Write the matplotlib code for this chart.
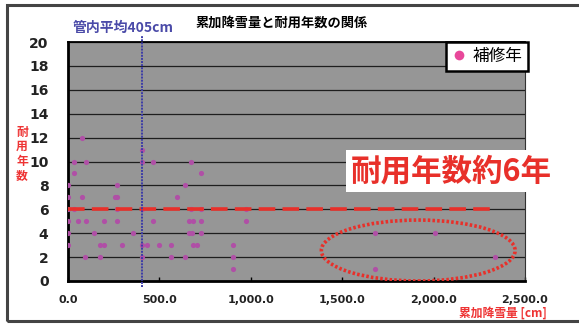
import matplotlib.pyplot as plt
from matplotlib.patches import Ellipse, Rectangle
from matplotlib.lines import Line2D
from matplotlib.ticker import FuncFormatter

plt.rcParams['font.family'] = ['Noto Sans CJK JP', 'DejaVu Sans']

# 累加降雪量 [cm] と 補修までの年数
snow = [
    79, 403,
    31, 101, 403, 465, 672,
    31, 725,
    2, 266, 641,
    0, 79, 255, 270, 599,
    0, 33, 266, 403, 672, 725, 973,
    0, 57, 97, 196, 267, 465, 662, 684, 725, 973,
    2, 141, 354, 660, 676, 725, 1678, 2008,
    2, 176, 198, 293, 403, 432, 498, 564, 683, 705, 905,
    95, 176, 403, 564, 641, 905, 2334,
    905, 1678,
]
years = [
    12, 11,
    10, 10, 10, 10, 10,
    9, 9,
    8, 8, 8,
    7, 7, 7, 7, 7,
    6, 6, 6, 6, 6, 6, 6,
    5, 5, 5, 5, 5, 5, 5, 5, 5, 5,
    4, 4, 4, 4, 4, 4, 4, 4,
    3, 3, 3, 3, 3, 3, 3, 3, 3, 3, 3,
    2, 2, 2, 2, 2, 2, 2,
    1, 1,
]

avg_snow = 405          # 管内平均
life_years = 6          # 耐用年数
life_line_end = 2335
x_ticks = [0, 500, 1000, 1500, 2000, 2500]
y_ticks = list(range(0, 21, 2))

fig = plt.figure(figsize=(5.79, 3.26), dpi=100)
fig.patch.set_facecolor('white')

# outer frame of the chart
fig.patches.append(Rectangle((7 / 579, 5 / 326), 1.0, 316 / 326,
                             transform=fig.transFigure, fill=False,
                             edgecolor='#444444', linewidth=2.2))

ax = fig.add_axes([68 / 579, 45 / 326, 457 / 579, 239 / 326])
ax.set_facecolor('#969696')
ax.set_xlim(0, 2500)
ax.set_ylim(0, 20)

for y in y_ticks[1:]:
    ax.axhline(y, color='#1e1e1e', linewidth=0.9, zorder=1)

ax.scatter(snow, years, s=14, color='#b04fa6', zorder=3, linewidths=0)

ax.plot([0, life_line_end], [life_years, life_years], color='#e8302a',
        linewidth=2.6, dashes=(4.6, 2.0), zorder=4)

ax.axvline(avg_snow, ymin=-0.027, ymax=1.03, color='#3c3ca8',
           linewidth=1.4, linestyle=(0, (1, 0.6)), clip_on=False, zorder=5)

ax.add_patch(Ellipse((1916, 2.55), 1060, 5.1, fill=False,
                     edgecolor='#e8302a', linewidth=2.6,
                     linestyle=(0, (0.7, 0.6)), zorder=5))

ax.set_xticks(x_ticks)
ax.set_yticks(y_ticks)
ax.xaxis.set_major_formatter(FuncFormatter(lambda v, p: f'{v:,.1f}'))
ax.tick_params(axis='x', direction='in', length=3, width=1, pad=10,
               labelsize=8)
ax.tick_params(axis='y', length=0, pad=14, labelsize=10)
for lab in ax.get_xticklabels() + ax.get_yticklabels():
    lab.set_family(['Liberation Sans Narrow', 'DejaVu Sans'])
    lab.set_fontweight('bold')
    lab.set_color('#222222')

for side in ['left', 'bottom', 'top']:
    ax.spines[side].set_color('black')
ax.spines['left'].set_linewidth(2.0)
ax.spines['bottom'].set_linewidth(2.0)
ax.spines['top'].set_linewidth(1.3)
ax.spines['right'].set_linewidth(0.8)
ax.spines['right'].set_color('#333333')

fig.text(282 / 579, 1 - 23 / 326, '累加降雪量と耐用年数の関係',
         ha='center', va='center', fontsize=9.5, fontweight='bold')
fig.text(123 / 579, 1 - 28 / 326, '管内平均405cm', ha='center',
         va='center', fontsize=10, fontweight='bold', color='#4a4aa8')
fig.text(22 / 579, 1 - 154 / 326, '耐\n用\n年\n数', ha='center',
         va='center', fontsize=8.5, fontweight='bold', color='#ee3333',
         linespacing=1.15)
fig.text(503 / 579, 1 - 313 / 326, '累加降雪量 [cm]', ha='center',
         va='center', fontsize=8.5, fontweight='bold', color='#ee3333')

fig.text(451 / 579, 1 - 171 / 326, '耐用年数約6年', ha='center',
         va='center', fontsize=22, fontweight='bold', color='#e8302a',
         bbox=dict(boxstyle='square,pad=0.15', facecolor='white',
                   edgecolor='none'))

handle = Line2D([], [], linestyle='none', marker='o', markersize=7,
                markerfacecolor='#e8489a', markeredgecolor='none')
leg = ax.legend([handle], ['補修年'], loc='upper right',
                bbox_to_anchor=(1.006, 1.0), borderaxespad=0,
                fontsize=12, frameon=True,
                fancybox=False, framealpha=1, edgecolor='black',
                handlelength=0.8, handletextpad=0.4, borderpad=0.35)
leg.get_frame().set_linewidth(1.8)
leg.set_zorder(10)

fig.savefig('out.png', dpi=100)
